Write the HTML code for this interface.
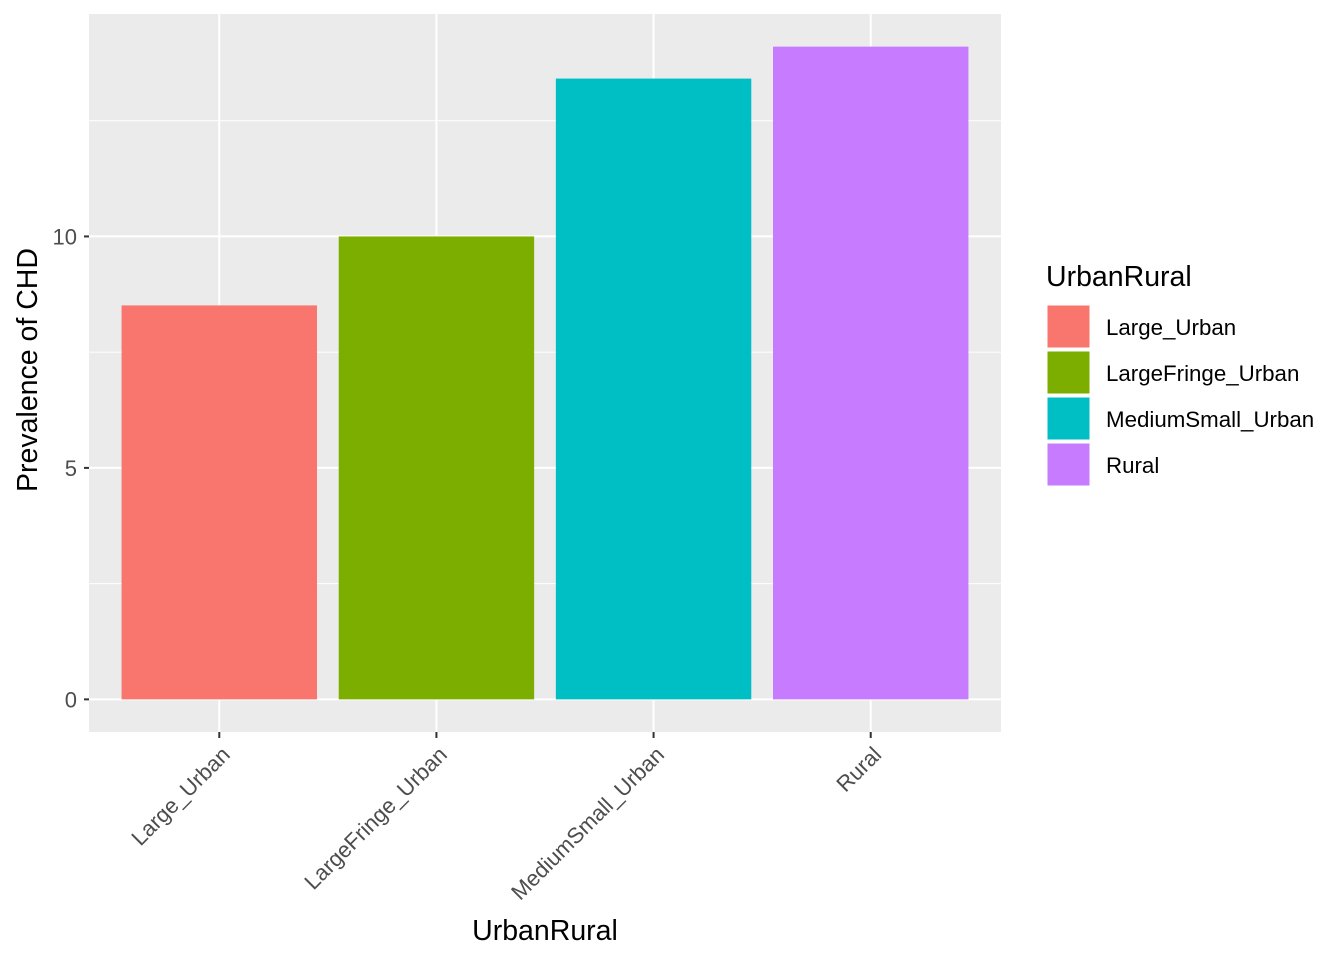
<!DOCTYPE html>
<html><head><meta charset="utf-8"><style>body{margin:0;background:#fff}svg{display:block;font-family:"Liberation Sans",Arial,sans-serif}</style></head>
<body>
<svg id="chart" width="1344" height="960"></svg>
<script>
const categories = ["Large_Urban","LargeFringe_Urban","MediumSmall_Urban","Rural"];
const values = [8.51, 10.0, 13.41, 14.1];
const colors = ["#F8766D","#7CAE00","#00BFC4","#C77CFF"];
const yTicks = [0, 5, 10];
const yMinor = [2.5, 7.5, 12.5];

const NS = "http://www.w3.org/2000/svg";
const svg = document.getElementById("chart");
const P = {l:89, r:1001, t:14, b:732};
const yMin = -0.705, yMax = 14.805;
const y = v => P.b - (v - yMin) / (yMax - yMin) * (P.b - P.t);
const step = (P.r - P.l) / (categories.length + 0.2);
const x = i => P.l + step * (i + 0.6);
function mk(tag, attrs, parent) {
  const e = document.createElementNS(NS, tag);
  for (const k in attrs) e.setAttribute(k, attrs[k]);
  (parent || svg).appendChild(e);
  return e;
}
const bg = mk("rect", {x:P.l, y:P.t, width:P.r-P.l, height:P.b-P.t, fill:"#EBEBEB"});


yMinor.forEach(v => {
  const l = mk("line", {x1:P.l, x2:P.r, y1:y(v), y2:y(v), stroke:"#fff", "stroke-width":1});
  
  
});
yTicks.forEach(v => {
  const l = mk("line", {x1:P.l, x2:P.r, y1:y(v), y2:y(v), stroke:"#fff", "stroke-width":2});
  
  
  const tk = mk("line", {x1:P.l-5, x2:P.l, y1:y(v), y2:y(v), stroke:"#333", "stroke-width":2});
  
  
  const t = mk("text", {x:P.l-12, y:y(v)+8, "text-anchor":"end", "font-size":22, fill:"#4D4D4D"});
  t.textContent = v;
  
  
});
categories.forEach((c, i) => {
  const g = mk("line", {x1:x(i), x2:x(i), y1:P.t, y2:P.b, stroke:"#fff", "stroke-width":2});
  
  
});
categories.forEach((c, i) => {
  const w = step * 0.9;
  const r = mk("rect", {x:x(i)-w/2, y:y(values[i]), width:w, height:y(0)-y(values[i]), fill:colors[i]});
  
  
  const tk = mk("line", {x1:x(i), x2:x(i), y1:P.b, y2:P.b+6, stroke:"#333", "stroke-width":2});
  
  
  const t = mk("text", {x:x(i)+12, y:P.b+24, "text-anchor":"end", "font-size":22, fill:"#4D4D4D", transform:`rotate(-45 ${x(i)+12} ${P.b+24})`});
  t.textContent = c;
  
  
});
const xt = mk("text", {x:(P.l+P.r)/2, y:940, "text-anchor":"middle", "font-size":28.5, fill:"#000"});
xt.textContent = "UrbanRural";


const yt = mk("text", {x:37, y:(P.t+P.b)/2 - 3, "text-anchor":"middle", "font-size":28.5, fill:"#000", transform:`rotate(-90 37 ${(P.t+P.b)/2 - 3})`});
yt.textContent = "Prevalence of CHD";


const lt = mk("text", {x:1046, y:286, "font-size":28.5, fill:"#000"});
lt.textContent = "UrbanRural";


categories.forEach((c, i) => {
  const yy = 305 + i * 46;
  const k = mk("rect", {x:1047, y:yy, width:43, height:43, fill:colors[i], stroke:"#fff", "stroke-width":1});
  
  
  const t = mk("text", {x:1106, y:yy+30, "font-size":22.3, fill:"#000"});
  t.textContent = c;
  
  
});
</script>
</body></html>
